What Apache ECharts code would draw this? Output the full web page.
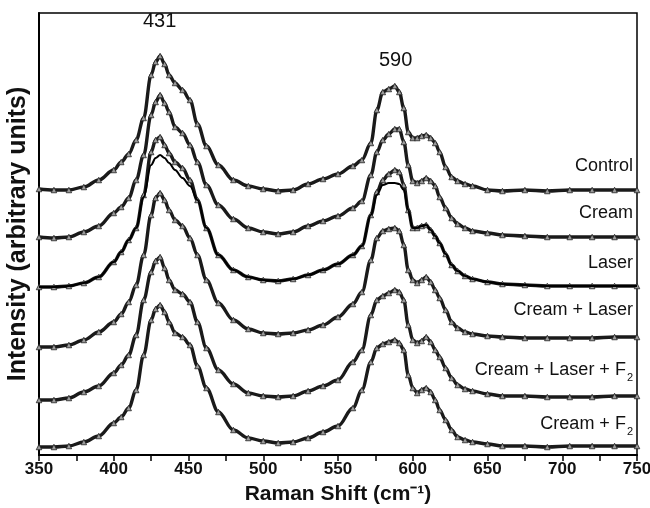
<!DOCTYPE html>
<html>
<head>
<meta charset="utf-8">
<script src="https://cdn.jsdelivr.net/npm/echarts@6/dist/echarts.min.js"></script>
<style>
html,body{margin:0;padding:0;background:#fff;}
#chart{width:650px;height:508px;}
</style>
</head>
<body>
<div id="chart"></div>
<script>
// Raman shift grid (cm-1)
var ramanShift = [350,360,370,380,390,400,405,410,415,420,425,428,431,434,437,441,446,451,456,462,470,480,490,500,510,520,530,540,550,560,566,572,576,580,584,588,591,594,597,600,603,606,609,612,615,618,622,626,630,635,640,650,660,675,690,705,720,735,750];

// Intensities (arbitrary units, traces stacked with offsets as in the figure)
var control = [266,265,265,268,275,285,293,301,315,337,380,393,399,391,380,372,365,355,331,309,290,275,269,266,264,265,271,276,281,289,295,312,345,363,366,369,363,347,323,317,317,319,320,317,312,303,288,278,274,271,269,265,264,265,264,265,265,265,265];
var cream = [218,217,218,223,229,242,248,257,275,300,340,353,360,352,343,328,322,310,293,270,250,236,227,223,221,223,229,234,239,247,254,280,303,315,321,326,326,313,290,274,272,274,277,274,269,258,247,237,231,227,224,222,220,219,218,218,218,218,218];
var laser = [168,168,169,172,178,193,203,215,227,260,303,315,318,310,302,293,287,275,255,227,200,185,178,175,174,176,180,185,191,200,209,240,263,275,281,285,283,270,245,227,227,229,230,225,219,212,201,190,184,179,176,173,171,170,169,169,169,169,169];
var laserFit = [168,168,169,172,178,193,203,215,227,258,290,297,300,297,292,285,277,269,255,227,200,185,178,175,174,176,180,185,191,200,209,240,260,270,272,272,271,265,245,227,227,229,230,225,219,212,201,190,184,179,176,173,171,170,169,169,169,169,169];
var creamLaser = [108,108,110,115,123,133,141,153,170,200,240,257,262,255,245,235,229,217,200,175,152,135,126,122,121,122,125,130,138,151,163,195,217,224,226,227,224,210,185,175,172,175,178,173,165,157,145,133,127,123,121,119,118,117,117,117,117,118,118];
var creamLaserF2 = [55,55,57,63,69,82,90,100,120,155,183,194,198,187,175,165,161,153,133,107,85,71,62,59,58,59,64,69,75,93,105,140,155,159,162,165,163,155,130,115,112,114,118,113,105,98,87,77,70,66,64,61,59,59,58,58,58,59,59];
var creamF2 = [8,8,9,13,19,32,38,47,65,100,135,146,150,143,133,122,118,110,89,67,43,25,17,14,12,13,17,23,29,47,65,93,107,111,113,115,112,105,80,67,62,65,67,63,55,45,35,25,18,15,13,11,9,9,8,9,9,9,9];

var traceNames = ['Control','Cream','Laser','Cream + Laser','Cream + Laser + F2','Cream + F2'];
var traceValues = [control, cream, laser, creamLaser, creamLaserF2, creamF2];
var peakLabels = [431, 590];

var xTicks = {min: 350, max: 750, interval: 50};

function pairs(arr){ return ramanShift.map(function(x,i){ return [x, arr[i]]; }); }

var series = traceValues.map(function(v, k){
  return {
    name: traceNames[k],
    type: 'line',
    data: pairs(v),
    smooth: 0.35,
    smoothMonotone: 'x',
    symbol: 'triangle',
    symbolSize: 5.5,
    showAllSymbol: true,
    lineStyle: {color: '#1a1a1a', width: 3.4},
    itemStyle: {color: '#9a9a9a', borderColor: '#222', borderWidth: 0.8},
    emphasis: {disabled: true},
    silent: true,
    z: 3
  };
});
series.push({
  name: 'Laser fit',
  type: 'line',
  data: pairs(laserFit),
  smooth: 0.35,
  smoothMonotone: 'x',
  symbol: 'none',
  lineStyle: {color: '#000', width: 2},
  silent: true,
  z: 4
});

var chart = echarts.init(document.getElementById('chart'), null, {renderer: 'canvas'});

var labelFont = '"Liberation Sans", Arial, sans-serif';
function nameLabel(text, y){
  var m = text.match(/^(.*F)2$/);
  var t = m ? '{a|' + m[1] + '}{s|2}' : '{a|' + text + '}';
  return {
    type: 'text', right: 17, top: y - 11, z: 10,
    style: {
      text: t,
      rich: {
        a: {fontSize: 18, fontFamily: labelFont, fill: '#111', lineHeight: 22},
        s: {fontSize: 11, fontFamily: labelFont, fill: '#111', lineHeight: 22, padding: [14, 0, 0, 1]}
      }
    }
  };
}

var labelYs = [168, 215, 265, 312, 369, 423];

chart.setOption({
  animation: false,
  backgroundColor: '#fff',
  grid: {left: 39, right: 13, top: 13, bottom: 53, outerBoundsMode: 'none', containLabel: false, show: true, borderColor: '#000', borderWidth: 1.5, backgroundColor: 'transparent'},
  xAxis: {
    type: 'value', min: xTicks.min, max: xTicks.max, interval: xTicks.interval,
    name: 'Raman Shift (cm\u207B\u00B9)', nameLocation: 'middle', nameGap: 29,
    nameTextStyle: {fontSize: 21, fontWeight: 'bold', color: '#111', fontFamily: labelFont},
    axisLine: {show: true, lineStyle: {color: '#000', width: 2}},
    axisTick: {show: true, length: 6, lineStyle: {color: '#000', width: 1.5}},
    minorTick: {show: true, splitNumber: 2, length: 6, lineStyle: {color: '#000', width: 1.5}},
    splitLine: {show: false},
    axisLabel: {fontSize: 17, fontWeight: 'bold', color: '#111', margin: 6, fontFamily: labelFont}
  },
  yAxis: {
    type: 'value', min: 0, max: 442,
    name: 'Intensity (arbitrary units)', nameLocation: 'middle', nameGap: 8,
    nameTextStyle: {fontSize: 25, fontWeight: 'bold', color: '#111', fontFamily: labelFont},
    axisLine: {show: true, lineStyle: {color: '#000', width: 2}},
    axisTick: {show: false},
    axisLabel: {show: false},
    splitLine: {show: false}
  },
  graphic: traceNames.map(function(n, i){ return nameLabel(n, labelYs[i]); }).concat([
    {type: 'text', left: 160 - 17, top: 11, z: 10, style: {text: String(peakLabels[0]), fontSize: 20, fontFamily: labelFont, fill: '#111'}},
    {type: 'text', left: 396 - 17, top: 50, z: 10, style: {text: String(peakLabels[1]), fontSize: 20, fontFamily: labelFont, fill: '#111'}}
  ]),
  series: series
});
</script>
</body>
</html>
